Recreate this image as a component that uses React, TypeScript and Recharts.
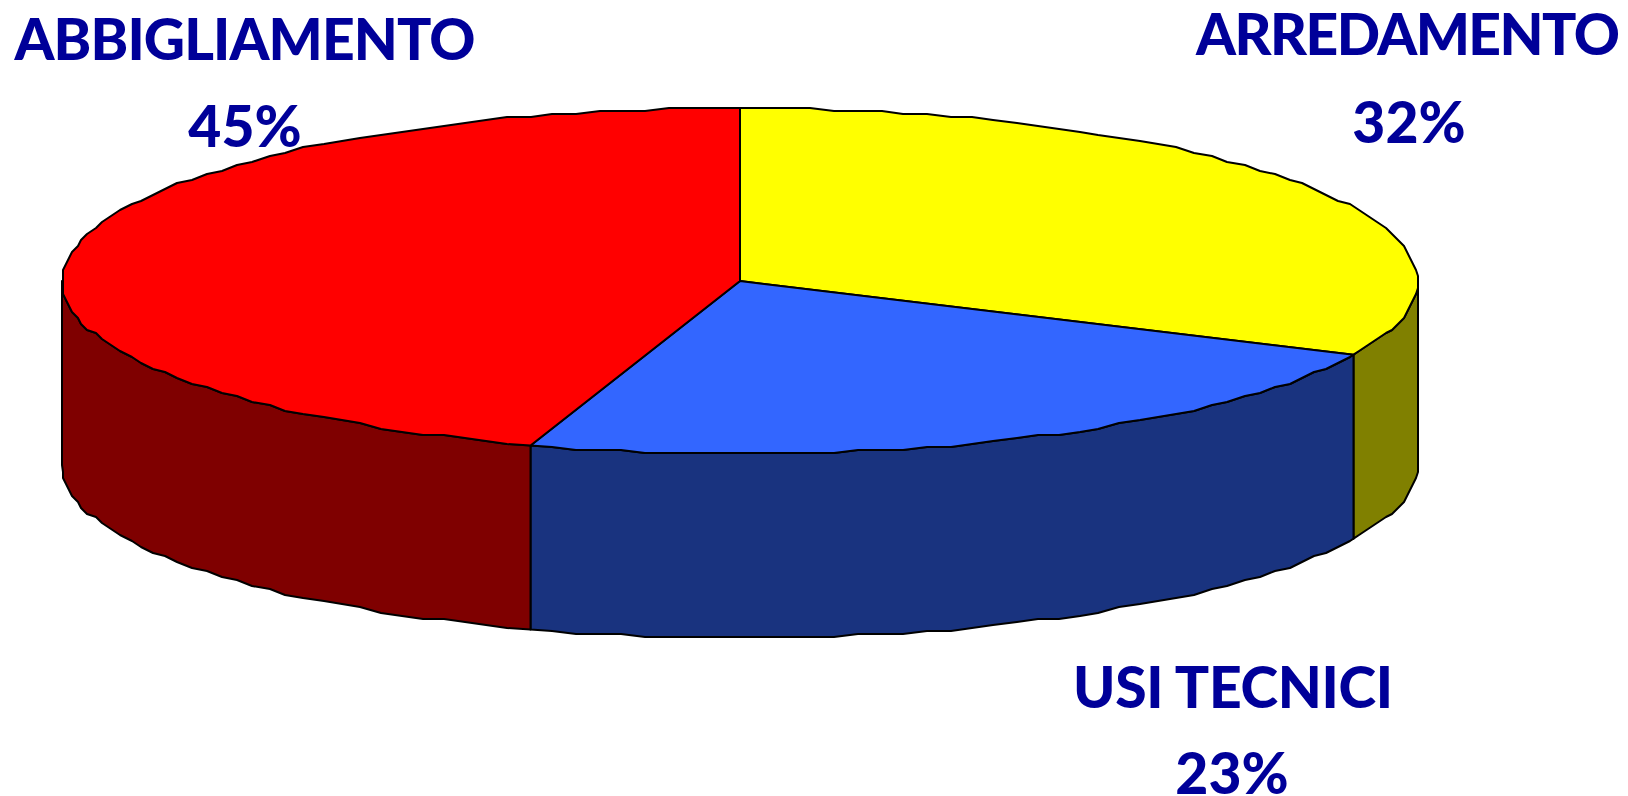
import React from "react";
import { PieChart, Pie, Cell } from "recharts";

const categories = ["ARREDAMENTO", "USI TECNICI", "ABBIGLIAMENTO"];
const shares = [32, 23, 45];
const topColors = ["#FFFF00", "#3366FF", "#FF0000"];
const sideColors = ["#808000", "#19337F", "#7F0000"];

const data = categories.map((name, i) => ({ name, value: shares[i] }));

const W = 1628, H = 796;
const CX = 740, CY = 281, RX = 678, RY = 173, DEPTH = 184;
const FONT = "'Lato', 'Open Sans', sans-serif";
const LABEL_POS = [
  { x: 1408, y1: 55, len1: 424, x2: 1409, y2: 143 },
  { x: 1233, y1: 708, len1: 320, x2: 1232, y2: 794 },
  { x: 245, y1: 60, len1: 461, x2: 245, y2: 147 },
];

const pt = (deg: number, dy = 0) => {
  const r = (deg * Math.PI) / 180;
  return [CX + RX * Math.cos(r), CY - RY * Math.sin(r) + dy];
};
const STROKE = { stroke: "#000", strokeWidth: 2, strokeLinejoin: "round" as const };

// The reference outline is a coarse, stepped polygon rather than a smooth arc.
const STEP_DEG = 2, SNAP_Y = 3, SNAP_X = 3;
const snap = (v: number, s: number) => Math.round(v / s) * s;
const clampX = (x: number) => Math.min(CX + RX, Math.max(CX - RX, x));

// Points on the rim going clockwise (decreasing angle) from a to b, both ends exact.
function rim(a: number, b: number, dy = 0): number[][] {
  const out: number[][] = [pt(a, dy)];
  let g = Math.floor(a / STEP_DEG) * STEP_DEG;
  if (g === a) g -= STEP_DEG;
  for (; g > b; g -= STEP_DEG) {
    const [x, y] = pt(g);
    out.push([clampX(snap(x, SNAP_X)), snap(y, SNAP_Y) + dy]);
  }
  out.push(pt(b, dy));
  return out;
}
const toPath = (pts: number[][]) => pts.map((p) => `${p[0].toFixed(1)},${p[1].toFixed(1)}`).join("L");

function TopSlice(p: any) {
  const a = Math.max(p.startAngle, p.endAngle);
  const b = Math.min(p.startAngle, p.endAngle);
  return <path d={`M${CX},${CY}L${toPath(rim(a, b))}Z`} fill={p.fill} {...STROKE} />;
}

function SideSlice(p: any) {
  const hi = Math.max(p.startAngle, p.endAngle);
  const lo = Math.min(p.startAngle, p.endAngle);
  // The wall shows only on the lower half of the rim, angles between 0 and -180.
  const a = Math.min(hi, 0);
  const b = Math.max(lo, -180);
  if (a <= b) return null;
  const front = rim(a, b);
  const back = rim(a, b, DEPTH).reverse();
  return <path d={`M${toPath(front)}L${toPath(back)}Z`} fill={p.fill} {...STROKE} />;
}

function Label(p: any) {
  const pos = LABEL_POS[p.index];
  const style = { fontFamily: FONT, fontWeight: 900, fontSize: 57, fill: "#000099" };
  return (
    <g>
      <text x={pos.x} y={pos.y1} textAnchor="middle" textLength={pos.len1} lengthAdjust="spacing" style={style}>
        {categories[p.index]}
      </text>
      <text x={pos.x2} y={pos.y2} textAnchor="middle" style={style}>{shares[p.index]}%</text>
    </g>
  );
}

export default function App() {
  return (
    <div style={{ position: "absolute", left: 0, top: 0, width: W, height: H, background: "#fff", overflow: "hidden" }}>
      <PieChart width={W} height={H} margin={{ top: 0, right: 0, bottom: 0, left: 0 }}>
        <Pie data={data} dataKey="value" cx={CX} cy={CY} outerRadius={RY} startAngle={90} endAngle={-270}
          isAnimationActive={false} shape={SideSlice} stroke="none" label={false} labelLine={false}>
          {data.map((d, i) => <Cell key={d.name} fill={sideColors[i]} />)}
        </Pie>
        <Pie data={data} dataKey="value" cx={CX} cy={CY} outerRadius={RY} startAngle={90} endAngle={-270}
          isAnimationActive={false} shape={TopSlice} stroke="none" label={Label} labelLine={false}>
          {data.map((d, i) => <Cell key={d.name} fill={topColors[i]} />)}
        </Pie>
      </PieChart>
    </div>
  );
}
